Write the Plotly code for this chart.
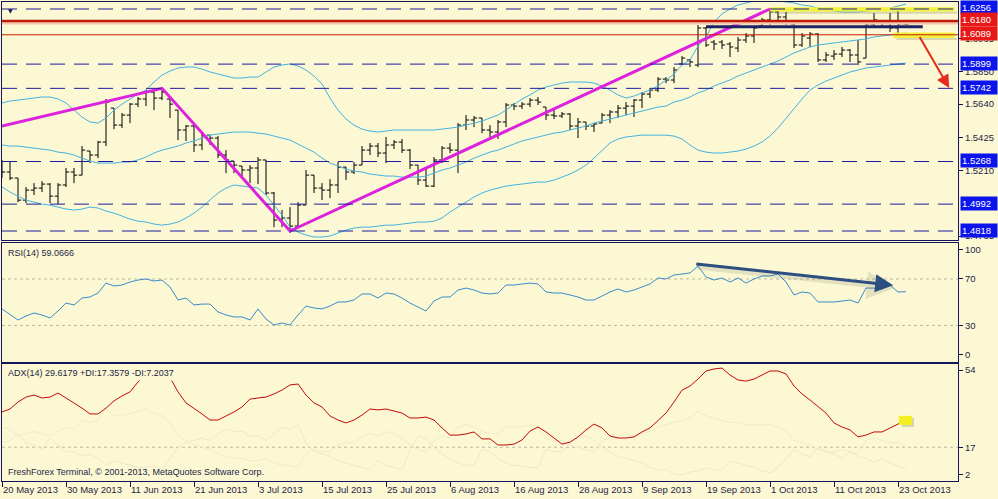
import pandas as pd
import plotly.graph_objects as go

# ---------------- data ----------------
dates = [d.strftime("%Y-%m-%d") for d in pd.bdate_range("2013-05-20", "2013-10-24")]

open_ = [1.5245,1.5200,1.5161,1.5018,1.5083,1.5096,1.5122,1.5044,1.5116,1.5200,
1.5180,1.5336,1.5310,1.5394,1.5614,1.5504,1.5569,1.5640,1.5673,1.5718,
1.5679,1.5673,1.5601,1.5472,1.5498,1.5375,1.5439,1.5420,1.5310,1.5271,
1.5239,1.5213,1.5226,1.5278,1.5064,1.4889,1.4902,1.4850,1.4986,1.5180,
1.5096,1.5083,1.5116,1.5232,1.5200,1.5245,1.5342,1.5368,1.5323,1.5375,
1.5394,1.5342,1.5245,1.5148,1.5109,1.5278,1.5355,1.5342,1.5504,1.5537,
1.5550,1.5472,1.5459,1.5524,1.5634,1.5627,1.5640,1.5666,1.5621,1.5569,
1.5563,1.5576,1.5498,1.5524,1.5498,1.5517,1.5569,1.5589,1.5614,1.5627,
1.5666,1.5705,1.5731,1.5802,1.5796,1.5900,1.5926,1.5893,1.6133,1.6042,
1.6042,1.6029,1.6003,1.6055,1.6081,1.6146,1.6185,1.6237,1.6204,1.6159,
1.6023,1.6068,1.6094,1.5926,1.5951,1.5964,1.5990,1.5958,1.5938,1.6159,
1.6172,1.6172,1.6133,1.6159]
high = [1.5278,1.5265,1.5161,1.5103,1.5128,1.5141,1.5128,1.5128,1.5226,1.5226,
1.5368,1.5336,1.5401,1.5673,1.5614,1.5582,1.5647,1.5686,1.5731,1.5731,
1.5744,1.5673,1.5601,1.5504,1.5517,1.5452,1.5439,1.5433,1.5342,1.5271,
1.5239,1.5245,1.5297,1.5278,1.5070,1.4954,1.4973,1.5005,1.5213,1.5180,
1.5128,1.5154,1.5265,1.5232,1.5265,1.5368,1.5388,1.5388,1.5427,1.5407,
1.5414,1.5349,1.5245,1.5226,1.5297,1.5368,1.5388,1.5517,1.5569,1.5563,
1.5550,1.5504,1.5537,1.5647,1.5647,1.5653,1.5679,1.5686,1.5621,1.5614,
1.5589,1.5582,1.5550,1.5524,1.5517,1.5582,1.5601,1.5634,1.5653,1.5673,
1.5718,1.5744,1.5815,1.5815,1.5880,1.5951,1.5932,1.6152,1.6139,1.6055,
1.6055,1.6042,1.6075,1.6100,1.6139,1.6198,1.6256,1.6250,1.6237,1.6165,
1.6100,1.6107,1.6100,1.5977,1.5990,1.6010,1.5997,1.6055,1.6172,1.6230,
1.6178,1.6230,1.6256,1.6165]
low = [1.5161,1.5148,1.5005,1.4999,1.5051,1.5070,1.4999,1.4992,1.5103,1.5128,
1.5180,1.5258,1.5290,1.5368,1.5478,1.5485,1.5517,1.5621,1.5627,1.5601,
1.5666,1.5550,1.5407,1.5401,1.5329,1.5342,1.5375,1.5290,1.5193,1.5193,
1.5161,1.5128,1.5122,1.5051,1.4843,1.4843,1.4805,1.4843,1.4986,1.5064,
1.5018,1.5031,1.5064,1.5148,1.5187,1.5245,1.5310,1.5297,1.5258,1.5349,
1.5323,1.5219,1.5116,1.5103,1.5103,1.5258,1.5323,1.5193,1.5472,1.5491,
1.5452,1.5427,1.5414,1.5491,1.5601,1.5608,1.5621,1.5634,1.5537,1.5543,
1.5550,1.5472,1.5420,1.5472,1.5459,1.5517,1.5517,1.5550,1.5569,1.5556,
1.5614,1.5679,1.5718,1.5776,1.5776,1.5893,1.5880,1.5880,1.6010,1.5990,
1.5997,1.5945,1.5977,1.6036,1.6036,1.6133,1.6152,1.6185,1.6152,1.6003,
1.6010,1.6010,1.5913,1.5913,1.5926,1.5945,1.5913,1.5893,1.5938,1.6139,
1.6139,1.6107,1.6100,1.6152]
close = [1.5200,1.5161,1.5018,1.5083,1.5096,1.5122,1.5044,1.5116,1.5200,1.5180,
1.5342,1.5310,1.5394,1.5653,1.5504,1.5569,1.5640,1.5673,1.5718,1.5679,
1.5718,1.5640,1.5472,1.5498,1.5375,1.5439,1.5420,1.5310,1.5278,1.5245,
1.5213,1.5226,1.5278,1.5064,1.4889,1.4902,1.4850,1.4986,1.5180,1.5096,
1.5083,1.5116,1.5232,1.5200,1.5245,1.5342,1.5368,1.5323,1.5375,1.5394,
1.5342,1.5245,1.5148,1.5109,1.5278,1.5355,1.5342,1.5504,1.5537,1.5550,
1.5472,1.5459,1.5524,1.5634,1.5627,1.5640,1.5666,1.5653,1.5569,1.5563,
1.5576,1.5498,1.5524,1.5498,1.5511,1.5569,1.5589,1.5614,1.5627,1.5666,
1.5705,1.5731,1.5802,1.5796,1.5861,1.5938,1.5913,1.6133,1.6023,1.6029,
1.6023,1.6010,1.6055,1.6081,1.6133,1.6185,1.6237,1.6204,1.6165,1.6023,
1.6081,1.6094,1.5926,1.5958,1.5964,1.5990,1.5958,1.5913,1.6159,1.6185,
1.6165,1.6133,1.6159,1.6159]

bb_upper = [1.5647,1.5660,1.5666,1.5673,1.5679,1.5686,1.5686,1.5673,1.5647,1.5601,
1.5556,1.5524,1.5517,1.5550,1.5601,1.5640,1.5673,1.5705,1.5731,1.5783,
1.5828,1.5854,1.5874,1.5880,1.5880,1.5867,1.5848,1.5835,1.5822,1.5809,
1.5809,1.5815,1.5815,1.5848,1.5880,1.5893,1.5900,1.5887,1.5861,1.5822,
1.5770,1.5679,1.5601,1.5543,1.5504,1.5478,1.5465,1.5459,1.5465,1.5472,
1.5472,1.5472,1.5472,1.5472,1.5472,1.5478,1.5485,1.5491,1.5504,1.5517,
1.5530,1.5550,1.5569,1.5601,1.5640,1.5673,1.5699,1.5731,1.5751,1.5763,
1.5776,1.5783,1.5783,1.5783,1.5776,1.5757,1.5731,1.5699,1.5679,1.5692,
1.5712,1.5731,1.5757,1.5796,1.5835,1.5893,1.5926,1.6016,1.6075,1.6172,
1.6224,1.6256,1.6282,1.6295,1.6308,1.6314,1.6314,1.6308,1.6301,1.6295,
1.6282,1.6275,1.6262,1.6250,1.6243,1.6237,1.6237,1.6237,1.6243,1.6250,
1.6256,1.6262,1.6275,1.6288]
bb_mid = [1.5375,1.5368,1.5368,1.5362,1.5355,1.5349,1.5342,1.5329,1.5323,1.5310,
1.5290,1.5271,1.5258,1.5258,1.5258,1.5265,1.5265,1.5278,1.5297,1.5323,
1.5342,1.5355,1.5368,1.5388,1.5401,1.5420,1.5439,1.5446,1.5452,1.5459,
1.5459,1.5459,1.5452,1.5446,1.5433,1.5420,1.5407,1.5381,1.5355,1.5329,
1.5290,1.5258,1.5239,1.5219,1.5206,1.5200,1.5187,1.5180,1.5174,1.5174,
1.5167,1.5167,1.5167,1.5174,1.5193,1.5213,1.5226,1.5245,1.5265,1.5290,
1.5310,1.5329,1.5342,1.5362,1.5381,1.5401,1.5414,1.5427,1.5439,1.5452,
1.5459,1.5472,1.5485,1.5498,1.5517,1.5530,1.5543,1.5556,1.5569,1.5582,
1.5595,1.5608,1.5621,1.5627,1.5653,1.5666,1.5686,1.5712,1.5731,1.5757,
1.5776,1.5796,1.5822,1.5841,1.5861,1.5880,1.5900,1.5919,1.5945,1.5971,
1.5990,1.6010,1.6023,1.6029,1.6036,1.6042,1.6049,1.6055,1.6062,1.6075,
1.6081,1.6088,1.6094,1.6100]
bb_lower = [1.5103,1.5070,1.5044,1.5018,1.5005,1.4992,1.4986,1.4973,1.4960,1.4954,
1.4960,1.4973,1.4967,1.4947,1.4934,1.4915,1.4895,1.4882,1.4876,1.4863,
1.4856,1.4863,1.4876,1.4902,1.4934,1.4973,1.5018,1.5064,1.5096,1.5116,
1.5109,1.5103,1.5096,1.5051,1.4986,1.4921,1.4843,1.4811,1.4792,1.4779,
1.4779,1.4785,1.4805,1.4824,1.4837,1.4843,1.4843,1.4850,1.4856,1.4856,
1.4863,1.4869,1.4876,1.4876,1.4882,1.4902,1.4941,1.4973,1.5005,1.5038,
1.5064,1.5083,1.5096,1.5109,1.5116,1.5122,1.5128,1.5135,1.5135,1.5148,
1.5167,1.5187,1.5213,1.5245,1.5290,1.5342,1.5388,1.5414,1.5427,1.5433,
1.5439,1.5439,1.5439,1.5439,1.5433,1.5414,1.5375,1.5342,1.5329,1.5323,
1.5323,1.5329,1.5336,1.5349,1.5368,1.5394,1.5433,1.5485,1.5550,1.5614,
1.5673,1.5731,1.5763,1.5789,1.5809,1.5828,1.5848,1.5861,1.5874,1.5880,
1.5887,1.5893,1.5900,1.5906]

rsi = [44.2,39.8,34.7,38.1,40.7,39.0,36.4,42.4,49.3,47.6,
53.6,54.5,57.9,66.5,64.0,64.8,67.4,69.1,70.0,68.3,
69.1,63.1,51.9,53.6,47.6,48.4,48.4,41.6,39.0,37.3,
37.3,34.7,44.2,35.5,30.4,32.1,30.4,39.0,46.7,45.0,
44.2,46.7,50.2,50.2,51.9,57.1,57.1,53.6,57.9,57.1,
53.6,49.3,45.9,42.4,51.0,54.5,54.5,60.5,62.2,60.5,
57.9,57.1,57.9,64.8,64.8,65.7,66.5,65.7,58.8,57.9,
57.9,56.2,54.5,51.9,51.9,55.3,58.8,61.4,58.8,60.5,
63.1,65.7,70.9,70.0,73.4,74.3,75.2,81.2,71.7,69.1,
70.9,67.4,70.9,66.5,70.0,72.6,72.6,74.3,67.4,56.2,
58.8,57.9,50.2,50.2,50.2,51.0,51.9,49.3,62.2,62.2,
61.4,64.8,58.8,59.0666]

adx = [32.7,34.0,37.1,39.3,40.2,38.9,39.3,41.1,38.9,36.7,
34.4,31.8,31.8,34.4,37.6,39.8,41.6,46.0,50.0,52.0,
51.0,48.0,41.6,36.7,34.4,31.8,29.1,29.1,30.9,32.7,
34.9,38.4,38.9,39.3,40.7,42.4,44.7,45.1,40.2,36.7,
34.9,30.9,29.1,27.8,29.1,31.3,34.0,33.6,34.0,33.1,
32.2,30.0,30.0,30.4,29.1,25.6,22.4,22.4,22.9,23.8,
20.7,20.7,18.0,18.0,18.4,20.2,24.2,26.0,23.8,21.1,
18.4,19.3,21.6,24.7,27.3,25.6,22.0,21.1,21.1,21.6,
23.8,25.6,29.1,32.2,37.1,42.4,44.2,47.3,50.9,51.8,
52.2,49.1,46.9,46.4,47.3,49.1,50.9,50.9,49.6,44.2,
40.7,38.0,35.3,32.2,27.8,26.0,24.7,21.6,22.4,23.8,
23.8,25.6,27.3,29.6179]

plus_di = [26,25,22,23,24,23,22,24,26,25,29,28,29,34,31,31,32,33,34,32,31,
28,22,20,18,17,16,14,13,12,12,11,11,12,10,9,9,8,
14,16,15,15,18,19,19,22,23,22,24,23,21,
18,16,15,20,22,21,
26,27,26,24,23,23,26,26,26,27,26,
21,20,20,18,17,16,15,
20,21,22,23,22,23,24,26,27,28,29,30,33,31,30,29,28,28,27,27,27,27,26,24,
20,19,18,16,15,15,16,15,14,20,21,20,19,19,17.3579]
minus_di = [19,20,23,19,18,16,21,18,15,15,13,14,12,9,11,10,9,8,8,9,7,
12,17,19,20,21,20,23,25,24,24,22,22,20,23,26,25,27,
19,15,14,13,11,10,9,8,7,11,9,8,7,
16,22,21,17,14,12,
10,9,9,16,15,12,10,9,8.5,8,8,
16,15,15,19,21,22,20,
17,15,13,12,11,10,8,7,7,5,
4.7,6,6.5,7.8,7,7,11,10,9,8,6.5,5.6,8,12,
16,14,12.7,17,15,14,12,15,13,12,10.4,11.8,10,8.5,7.2037]

tick_dates = ["2013-05-20","2013-05-30","2013-06-11","2013-06-21","2013-07-03",
              "2013-07-15","2013-07-25","2013-08-06","2013-08-16","2013-08-28",
              "2013-09-09","2013-09-19","2013-10-01","2013-10-11","2013-10-23"]
tick_labels = ["20 May 2013","30 May 2013","11 Jun 2013","21 Jun 2013","3 Jul 2013",
               "15 Jul 2013","25 Jul 2013","6 Aug 2013","16 Aug 2013","28 Aug 2013",
               "9 Sep 2013","19 Sep 2013","1 Oct 2013","11 Oct 2013","23 Oct 2013"]
price_ticks = [1.6065, 1.5850, 1.5640, 1.5425, 1.5210, 1.4785]

blue_levels = [1.6256, 1.5899, 1.5742, 1.5268, 1.4992, 1.4818]
red_levels = [1.6180, 1.6089]

# zigzag trend lines (bar index, price)
zz_idx = [0, 20, 36, 96]
zz_price = [1.5498, 1.5742, 1.4818, 1.6256]

# ---------------- style ----------------
BG = "#FBF8D3"
NAVY = "#14145A"
FONT = "Liberation Sans, Arial, sans-serif"
TXT = "#1E1E46"

fig = go.Figure()

band_col = "#45B2E2"
for s in (bb_upper, bb_mid, bb_lower):
    fig.add_trace(go.Scatter(x=dates, y=s, mode="lines", line=dict(color=band_col, width=1),
                             hoverinfo="skip", xaxis="x", yaxis="y"))

fig.add_trace(go.Ohlc(x=dates, open=open_, high=high, low=low, close=close,
                      increasing=dict(line=dict(color="black", width=1)),
                      decreasing=dict(line=dict(color="black", width=1)),
                      tickwidth=0.4, hoverinfo="skip", xaxis="x", yaxis="y"))

fig.add_trace(go.Scatter(x=[dates[i] for i in zz_idx], y=zz_price, mode="lines",
                         line=dict(color="#DD22DD", width=3), hoverinfo="skip",
                         xaxis="x", yaxis="y"))

# RSI
fig.add_trace(go.Scatter(x=dates, y=rsi, mode="lines", line=dict(color="#3A8CCB", width=1),
                         hoverinfo="skip", xaxis="x2", yaxis="y2"))
# ADX + DI
fig.add_trace(go.Scatter(x=dates, y=plus_di, mode="lines", line=dict(color="#F1EBCA", width=1),
                         hoverinfo="skip", xaxis="x3", yaxis="y3"))
fig.add_trace(go.Scatter(x=dates, y=minus_di, mode="lines", line=dict(color="#F2E7CB", width=1),
                         hoverinfo="skip", xaxis="x3", yaxis="y3"))
fig.add_trace(go.Scatter(x=dates, y=adx, mode="lines", line=dict(color="#C40A0A", width=1),
                         hoverinfo="skip", xaxis="x3", yaxis="y3"))

shapes = []
# yellow highlight bands with shadow
shapes.append(dict(type="rect", xref="x", yref="y", x0=96.4, x1=119.4, y0=1.6226, y1=1.6240,
                   fillcolor="rgba(90,90,60,0.22)", line=dict(width=0), layer="above"))
shapes.append(dict(type="rect", xref="x", yref="y", x0=96, x1=119.1, y0=1.6240, y1=1.6268,
                   fillcolor="#F2F23C", line=dict(width=0), layer="above"))
shapes.append(dict(type="rect", xref="x", yref="y", x0=111.8, x1=119.4, y0=1.6055, y1=1.6068,
                   fillcolor="rgba(90,90,60,0.22)", line=dict(width=0), layer="above"))
shapes.append(dict(type="rect", xref="x", yref="y", x0=111.4, x1=119.1, y0=1.6068, y1=1.6104,
                   fillcolor="#F2F23C", line=dict(width=0), layer="above"))
# dashed levels
for lv in blue_levels:
    shapes.append(dict(type="line", xref="x domain", yref="y", x0=0, x1=1, y0=lv, y1=lv,
                       line=dict(color="#1C1C9A", width=1, dash="15px,9px"), layer="above"))
# red levels
shapes.append(dict(type="line", xref="x domain", yref="y", x0=0, x1=1, y0=1.6166, y1=1.6166,
                   line=dict(color="#F6C8AC", width=3), layer="above"))
shapes.append(dict(type="line", xref="x domain", yref="y", x0=0, x1=1, y0=1.6178, y1=1.6178,
                   line=dict(color="#C21A08", width=2.5), layer="above"))
shapes.append(dict(type="line", xref="x domain", yref="y", x0=0, x1=1, y0=1.6089, y1=1.6089,
                   line=dict(color="#CC1A0A", width=1), layer="above"))
# navy resistance line
shapes.append(dict(type="line", xref="x", yref="y", x0=88, x1=115.1, y0=1.6141, y1=1.6141,
                   line=dict(color="#1C2262", width=3), layer="above"))
# RSI / ADX levels
for lv in (70, 30):
    shapes.append(dict(type="line", xref="x2 domain", yref="y2", x0=0, x1=1, y0=lv, y1=lv,
                       line=dict(color="#BDB9A2", width=1, dash="3px,3px"), layer="below"))
shapes.append(dict(type="line", xref="x3 domain", yref="y3", x0=0, x1=1, y0=17, y1=17,
                   line=dict(color="#BDB9A2", width=1, dash="3px,3px"), layer="below"))
# ADX highlight square
shapes.append(dict(type="rect", xref="x3", yref="y3", xsizemode="pixel", ysizemode="pixel",
                   xanchor=len(dates) - 1, yanchor=adx[-1], x0=-4, x1=8, y0=-8, y1=1,
                   fillcolor="rgba(80,80,50,0.22)", line=dict(width=0), layer="above"))
shapes.append(dict(type="rect", xref="x3", yref="y3", xsizemode="pixel", ysizemode="pixel",
                   xanchor=len(dates) - 1, yanchor=adx[-1], x0=-7, x1=6, y0=-6, y1=3,
                   fillcolor="#F4F020", line=dict(width=0), layer="above"))

ann = []
# level boxes
for lv in blue_levels + red_levels:
    col = "#E81818" if lv in red_levels else "#0C14EE"
    ann.append(dict(x=1, xref="paper", y=lv, yref="y", xanchor="left", xshift=2, yshift=1,
                    text=f"{lv:.4f}", showarrow=False, bgcolor=col, borderpad=1, width=34,
                    align="left", font=dict(family=FONT, size=9.5, color="white")))
# red arrow
ann.append(dict(x=118.4, y=1.5744, ax=114.6, ay=1.6085, xref="x", yref="y", axref="x", ayref="y",
                text="", showarrow=True, arrowhead=2, arrowsize=1.3, arrowwidth=2,
                arrowcolor="#E62A1E"))
# RSI arrow with shadow
ann.append(dict(x=111.4, y=64.7, ax=86.6, ay=83, xref="x2", yref="y2", axref="x2", ayref="y2",
                xshift=1, yshift=-3, text="", showarrow=True, arrowhead=2, arrowsize=1.1,
                arrowwidth=5, arrowcolor="rgba(70,70,60,0.12)"))
ann.append(dict(x=111.4, y=64.7, ax=86.6, ay=83, xref="x2", yref="y2", axref="x2", ayref="y2",
                text="", showarrow=True, arrowhead=2, arrowsize=1.2, arrowwidth=3,
                arrowcolor="#2D4E80"))
# panel texts
ann.append(dict(x=0, xref="paper", y=1, yref="y2 domain", xanchor="left", yanchor="top",
                xshift=4, yshift=-3, text="RSI(14) 59.0666", showarrow=False,
                font=dict(family=FONT, size=9, color=TXT)))
ann.append(dict(x=0, xref="paper", y=1, yref="y3 domain", xanchor="left", yanchor="top",
                xshift=3, yshift=-1, text="ADX(14) 29.6179 +DI:17.3579 -DI:7.2037",
                showarrow=False, bgcolor=BG, borderpad=2,
                font=dict(family=FONT, size=9, color=TXT)))
ann.append(dict(x=0, xref="paper", y=0, yref="y3 domain", xanchor="left", yanchor="bottom",
                xshift=4, yshift=2,
                text="FreshForex Terminal, © 2001-2013, MetaQuotes Software Corp.",
                showarrow=False, font=dict(family=FONT, size=9, color=TXT)))
ann.append(dict(x=0, xref="paper", y=1, yref="paper", xanchor="left", yanchor="top",
                xshift=4, yshift=-3, text="▼", showarrow=False,
                font=dict(family="DejaVu Sans", size=6, color=NAVY)))

axis_common = dict(showline=True, mirror=True, linecolor=NAVY, linewidth=1,
                   showgrid=False, zeroline=False)
xcommon = dict(axis_common, type="category", range=[0, 119.5], categoryorder="array",
               categoryarray=dates)
ycommon = dict(axis_common, side="right", ticks="outside", ticklen=4, tickcolor=NAVY,
               tickfont=dict(family=FONT, size=9.5, color=TXT))

fig.update_layout(
    width=998, height=499,
    margin=dict(l=2, r=40, t=2, b=18, autoexpand=False),
    paper_bgcolor=BG, plot_bgcolor=BG,
    showlegend=False,
    xaxis=dict(xcommon, anchor="y", showticklabels=False, ticks="",
               rangeslider=dict(visible=False)),
    xaxis2=dict(xcommon, anchor="y2", matches="x", showticklabels=False, ticks=""),
    xaxis3=dict(xcommon, anchor="y3", matches="x", tickmode="array", tickvals=tick_dates,
                ticktext=tick_labels, ticks="outside", ticklen=5, tickcolor=NAVY,
                ticklabelposition="outside right",
                tickfont=dict(family=FONT, size=9.5, color=TXT)),
    yaxis=dict(ycommon, anchor="x", domain=[0.50313, 1.0], range=[1.47597, 1.63013],
               tickmode="array", tickvals=price_ticks,
               ticktext=[f"{v:.4f}" for v in price_ticks]),
    yaxis2=dict(ycommon, anchor="x2", domain=[0.24843, 0.49687], range=[-1.5, 101],
                tickmode="array", tickvals=[95.6, 70, 30, 5.1], ticktext=["100", "70", "30", "0"]),
    yaxis3=dict(ycommon, anchor="x3", domain=[0.0, 0.24426], range=[2, 54],
                tickmode="array", tickvals=[51.3, 17, 5.0], ticktext=["54", "17", "2"]),
    shapes=shapes,
    annotations=ann,
)

fig.write_html("out.html", config={"displayModeBar": False, "staticPlot": True},
               post_script="document.body.style.margin='0px';document.body.style.overflow='hidden';")
